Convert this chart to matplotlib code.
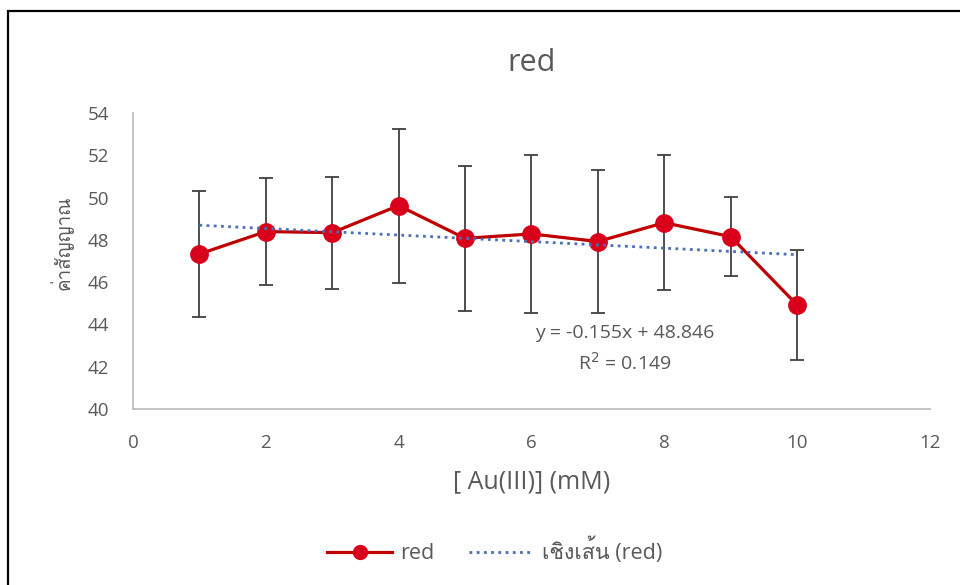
import numpy as np
import matplotlib
matplotlib.use('Agg')
import matplotlib.pyplot as plt
from matplotlib import font_manager
from matplotlib.ft2font import FT2Font
from matplotlib.lines import Line2D
from matplotlib.patches import Rectangle

# Daten
conc = [1, 2, 3, 4, 5, 6, 7, 8, 9, 10]
signal = [47.33, 48.39, 48.34, 49.62, 48.07, 48.28, 47.92, 48.81, 48.15, 44.92]
signal_err = [2.98, 2.52, 2.65, 3.64, 3.42, 3.72, 3.40, 3.20, 1.88, 2.60]
trend_slope = -0.155
trend_icpt = 48.846
trend_r2 = 0.149

title = 'red'
xlabel = '[ Au(III)] (mM)'
ylabel = 'ค่าสัญญาณ'
leg_series = 'red'
leg_trend = 'เชิงเส้น (red)'


# Schrift mit Thai-Zeichen suchen
def find_thai_font():
    for f in font_manager.fontManager.ttflist:
        try:
            if ord('ค') in FT2Font(f.fname).get_charmap():
                return f.name
        except Exception:
            pass
    return 'DejaVu Sans'


thai = find_thai_font()
plt.rcParams['font.family'] = ['Open Sans', thai, 'DejaVu Sans']

grey = '#595959'
red_line = '#C00000'
red_mark = '#D9001B'
blue = '#4A6FB5'

fig = plt.figure(figsize=(9.6, 5.85), dpi=100)
ax = fig.add_axes([0.1385, 0.3009, 0.8302, 0.506])

# Rahmen
fig.patches.append(Rectangle((8 / 960, -0.05), 1.1, 1 - 11 / 585 + 0.05,
                             transform=fig.transFigure, fill=False,
                             edgecolor='black', linewidth=1.6))

ax.errorbar(conc, signal, yerr=signal_err, fmt='none', ecolor='#404040',
            elinewidth=1.3, capsize=5, capthick=1.3, zorder=2)
ax.plot(conc, signal, color=red_line, linewidth=2.3, marker='o',
        markersize=12.5, markerfacecolor=red_mark, markeredgecolor=red_mark,
        zorder=3)

tx = np.array([conc[0], conc[-1]])
ax.plot(tx, trend_slope * tx + trend_icpt, color=blue, linestyle=(0, (1, 1.6)),
        linewidth=2, zorder=4)

ax.text(7.4, 43.6, 'y = %.3fx + %.3f' % (trend_slope, trend_icpt), ha='center',
        va='center', fontsize=14, color=grey)
ax.text(7.4, 42.2, 'R$^2$ = %.3f' % trend_r2, ha='center', va='center',
        fontsize=14, color=grey)

ax.set_xlim(0, 12)
ax.set_ylim(40, 54)
ax.set_xticks(range(0, 13, 2))
ax.set_yticks(range(40, 55, 2))
ax.tick_params(length=0, labelsize=13.5, labelcolor=grey)
ax.tick_params(axis='x', pad=18)
ax.tick_params(axis='y', pad=17)

for s in ['top', 'right']:
    ax.spines[s].set_visible(False)
for s in ['left', 'bottom']:
    ax.spines[s].set_color('#BFBFBF')
    ax.spines[s].set_linewidth(1.3)

ax.set_title(title, fontsize=22, color=grey, pad=30)
ax.set_xlabel(xlabel, fontsize=18, color=grey)
ax.xaxis.set_label_coords(0.5, -0.205)
ax.set_ylabel(ylabel, fontsize=13.5, color=grey)
ax.yaxis.set_label_coords(-0.075, 0.56)

handles = [
    Line2D([], [], color=red_line, linewidth=2.3, marker='o', markersize=10,
           markerfacecolor=red_mark, markeredgecolor=red_mark),
    Line2D([], [], color=blue, linestyle=(0, (1, 1.6)), linewidth=2),
]
fig.legend(handles, [leg_series, leg_trend], loc='center',
           bbox_to_anchor=(495 / 960, 1 - 551 / 585), ncol=2, frameon=False,
           fontsize=15.5, labelcolor=grey, handlelength=3.0, columnspacing=1.6,
           handletextpad=0.4)

fig.savefig('out.png', dpi=100)
